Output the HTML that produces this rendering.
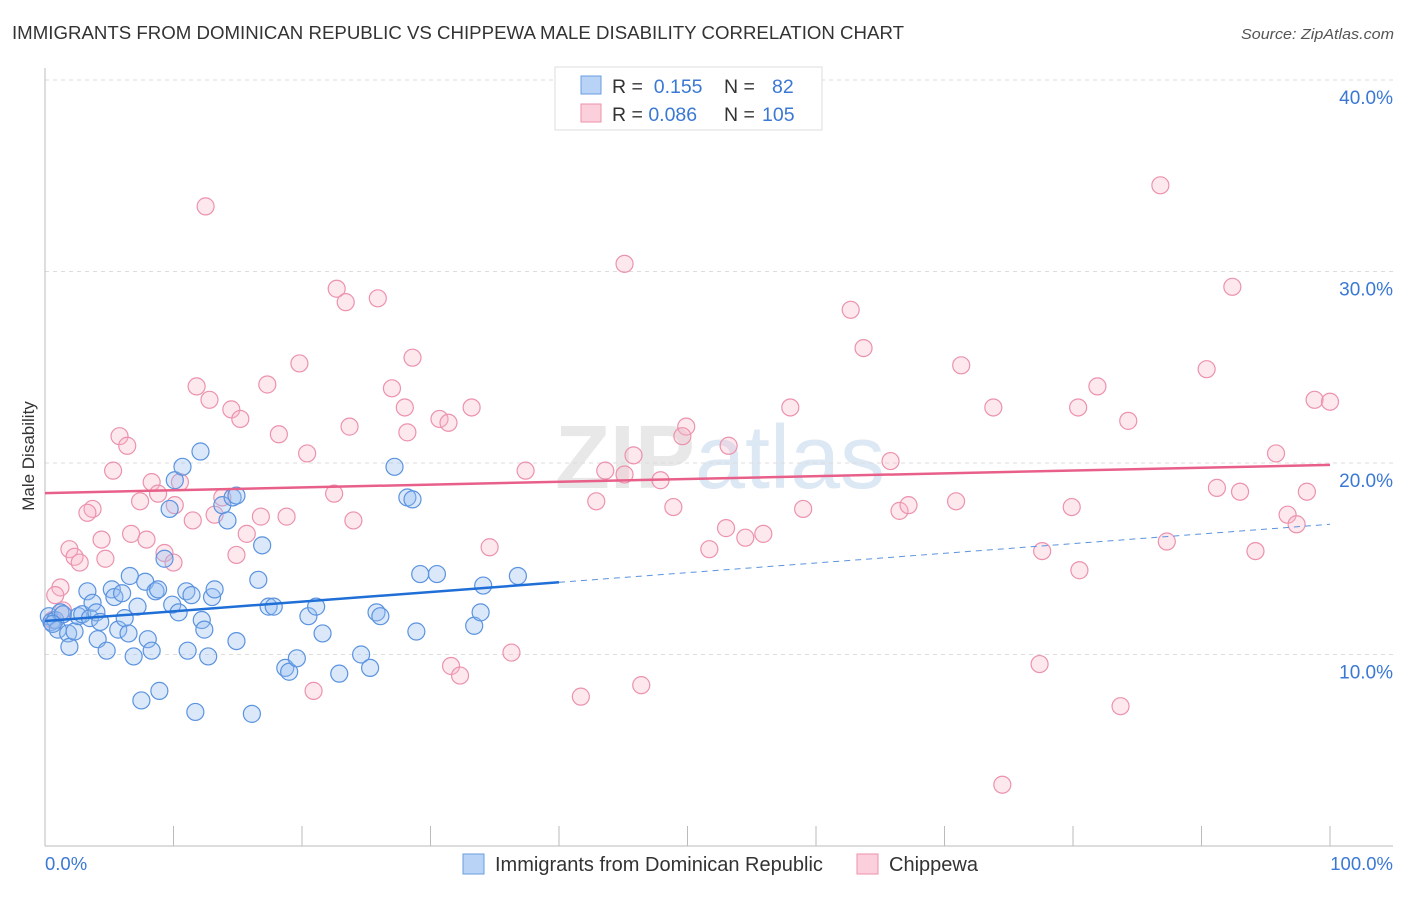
<!DOCTYPE html>
<html><head><meta charset="utf-8"><style>
body{margin:0;background:#fff;font-family:"Liberation Sans",sans-serif}
</style></head><body>
<svg width="1406" height="892" xmlns="http://www.w3.org/2000/svg" id="chart" font-family="Liberation Sans, sans-serif">
<text x="12" y="39" font-size="18" fill="#333" textLength="892" lengthAdjust="spacingAndGlyphs">IMMIGRANTS FROM DOMINICAN REPUBLIC VS CHIPPEWA MALE DISABILITY CORRELATION CHART</text>
<text x="1394" y="39" font-size="15" fill="#555" text-anchor="end" font-style="italic" textLength="153" lengthAdjust="spacingAndGlyphs">Source: ZipAtlas.com</text>
<text x="720" y="488" font-size="90" fill="#e8e8e8" text-anchor="middle" font-weight="bold">ZIP<tspan fill="#dde8f5" font-weight="normal">atlas</tspan></text>
<g id="grid"></g><g id="axes"></g><g id="pts"></g><g id="lines"></g>
<text transform="translate(34,456) rotate(-90)" font-size="17" fill="#333" text-anchor="middle">Male Disability</text>
<text x="45" y="870" font-size="18.5" fill="#3a78d4">0.0%</text>
<text x="1393" y="870" font-size="18.5" fill="#3a78d4" text-anchor="end">100.0%</text>
<g>
<rect x="555" y="67" width="267" height="63" fill="#fff" stroke="#ddd"/>
<rect x="581" y="76" width="20" height="18" fill="#b8d3f5" stroke="#6a9ee0"/>
<rect x="581" y="104" width="20" height="18" fill="#fbd0dc" stroke="#ec92ad"/>
<text x="612" y="93" font-size="19.5" fill="#333">R = <tspan fill="#3a78d4">&#160;0.155</tspan><tspan x="724">N = </tspan><tspan x="772" fill="#3a78d4">82</tspan></text>
<text x="612" y="121" font-size="19.5" fill="#333">R = <tspan fill="#3a78d4">0.086</tspan><tspan x="724">N = </tspan><tspan x="762" fill="#3a78d4">105</tspan></text>
</g>
<g>
<rect x="463" y="854" width="21" height="20" fill="#b8d3f5" stroke="#6a9ee0"/>
<text x="495" y="871" font-size="20" fill="#333">Immigrants from Dominican Republic</text>
<rect x="857" y="854" width="21" height="20" fill="#fbd0dc" stroke="#ec92ad"/>
<text x="889" y="871" font-size="20" fill="#333">Chippewa</text>
</g>
</svg>
<script>
const yTicks=[10,20,30,40];
const blueX=[0.3,0.5,0.8,1.0,1.2,1.4,1.8,1.9,2.3,2.6,2.9,3.3,3.5,3.7,4.0,4.1,4.3,4.8,5.2,5.4,5.7,6.0,6.2,6.5,6.6,6.9,7.2,7.5,7.8,8.0,8.3,8.6,8.8,8.9,9.3,9.7,9.9,10.1,10.4,10.7,11.0,11.1,11.4,11.7,12.1,12.2,12.4,12.7,13.0,13.2,13.8,14.2,14.6,14.9,14.9,16.1,16.6,16.9,17.4,17.8,18.7,19.0,19.6,20.5,21.1,21.6,22.9,24.6,25.3,25.8,26.1,27.2,28.2,28.6,28.9,29.2,30.5,33.4,33.9,34.1,36.8,0.6];
const blueY=[12.0,11.7,11.8,11.3,12.2,12.1,11.1,10.4,11.2,12.0,12.1,13.3,11.9,12.7,12.2,10.8,11.7,10.2,13.4,13.0,11.3,13.2,11.9,11.1,14.1,9.9,12.5,7.6,13.8,10.8,10.2,13.3,13.4,8.1,15.0,17.6,12.6,19.1,12.2,19.8,13.3,10.2,13.1,7.0,20.6,11.8,11.3,9.9,13.0,13.4,17.8,17.0,18.2,18.3,10.7,6.9,13.9,15.7,12.5,12.5,9.3,9.1,9.8,12.0,12.5,11.1,9.0,10.0,9.3,12.2,12.0,19.8,18.2,18.1,11.2,14.2,14.2,11.5,12.2,13.6,14.1,11.6];
const pinkX=[12.5,45.1,86.8,92.4,22.7,23.4,25.9,62.7,63.7,19.8,28.6,71.3,90.4,11.8,17.3,27.0,12.8,14.5,15.2,28.0,33.2,58.0,73.8,80.4,81.9,98.8,100,5.8,6.4,18.2,20.4,23.7,28.2,30.7,31.4,49.9,49.6,84.3,45.8,53.2,5.3,37.4,43.6,45.1,65.8,95.8,8.3,8.8,10.5,13.8,22.5,47.9,7.4,3.7,3.3,10.1,11.5,13.2,16.8,18.8,24.0,42.9,48.9,59.0,66.5,67.2,70.9,79.9,91.2,93.0,98.2,96.7,97.4,6.7,7.9,4.4,15.7,53.0,54.5,55.9,87.3,1.9,2.3,2.7,4.7,9.3,10.0,14.9,34.6,51.7,77.6,94.2,80.5,1.2,0.8,1.4,0.6,31.6,32.3,36.3,41.7,46.4,20.9,77.4,83.7,74.5];
const pinkY=[33.4,30.4,34.5,29.2,29.1,28.4,28.6,28.0,26.0,25.2,25.5,25.1,24.9,24.0,24.1,23.9,23.3,22.8,22.3,22.9,22.9,22.9,22.9,22.9,24.0,23.3,23.2,21.4,20.9,21.5,20.5,21.9,21.6,22.3,22.1,21.9,21.4,22.2,20.4,20.9,19.6,19.6,19.6,19.4,20.1,20.5,19.0,18.4,19.0,18.2,18.4,19.1,18.0,17.6,17.4,17.8,17.0,17.3,17.2,17.2,17.0,18.0,17.7,17.6,17.5,17.8,18.0,17.7,18.7,18.5,18.5,17.3,16.8,16.3,16.0,16.0,16.3,16.6,16.1,16.3,15.9,15.5,15.1,14.8,15.0,15.3,14.8,15.2,15.6,15.5,15.4,15.4,14.4,13.5,13.1,12.3,11.8,9.4,8.9,10.1,7.8,8.4,8.1,9.5,7.3,3.2];
const blueFit=[11.75,16.8];
const pinkFit=[18.43,19.9];
const blueSolidEnd=40;
const NS='http://www.w3.org/2000/svg';
const X=v=>45+v*12.85, Y=v=>846-v*19.15;
function mk(t,a,p){const e=document.createElementNS(NS,t);for(const k in a)e.setAttribute(k,a[k]);document.getElementById(p).appendChild(e);return e;}
yTicks.forEach(t=>{
 const l=mk('line',{x1:45,x2:1393,y1:Y(t),y2:Y(t),stroke:'#ddd','stroke-dasharray':'4,4'},'grid');
 
 
 const tx=mk('text',{x:1393,y:Y(t)+24,'font-size':19,fill:'#3a78d4','text-anchor':'end'},'grid');
 tx.textContent=t.toFixed(1)+'%';
 
 
});
const ax=mk('line',{x1:45,x2:45,y1:68,y2:846,stroke:'#bbb'},'axes');


const bx=mk('line',{x1:45,x2:1393,y1:846,y2:846,stroke:'#bbb'},'axes');


for(let i=0;i<=10;i++){
 const tk=mk('line',{x1:X(i*10),x2:X(i*10),y1:826,y2:846,stroke:'#bbb'},'axes');
 
 
}
pinkX.forEach((v,i)=>{
 const c=mk('circle',{cx:X(v),cy:Y(pinkY[i]),r:8.5,fill:'rgba(248,180,200,0.3)',stroke:'#ec92ad','stroke-width':1.2},'pts');
 
 
});
blueX.forEach((v,i)=>{
 const c=mk('circle',{cx:X(v),cy:Y(blueY[i]),r:8.5,fill:'rgba(150,190,240,0.35)',stroke:'#5b93df','stroke-width':1.2},'pts');
 
 
});
const bf=v=>blueFit[0]+(blueFit[1]-blueFit[0])*v/100;
const pf=v=>pinkFit[0]+(pinkFit[1]-pinkFit[0])*v/100;
const l1=mk('line',{x1:X(0),y1:Y(bf(0)),x2:X(blueSolidEnd),y2:Y(bf(blueSolidEnd)),stroke:'#1f6fd6','stroke-width':2.5},'lines');


const l2=mk('line',{x1:X(blueSolidEnd),y1:Y(bf(blueSolidEnd)),x2:X(100),y2:Y(bf(100)),stroke:'#5b93df','stroke-width':1,'stroke-dasharray':'6,5'},'lines');


const l3=mk('line',{x1:X(0),y1:Y(pf(0)),x2:X(100),y2:Y(pf(100)),stroke:'#e8608a','stroke-width':2.5},'lines');


</script>
</body></html>
